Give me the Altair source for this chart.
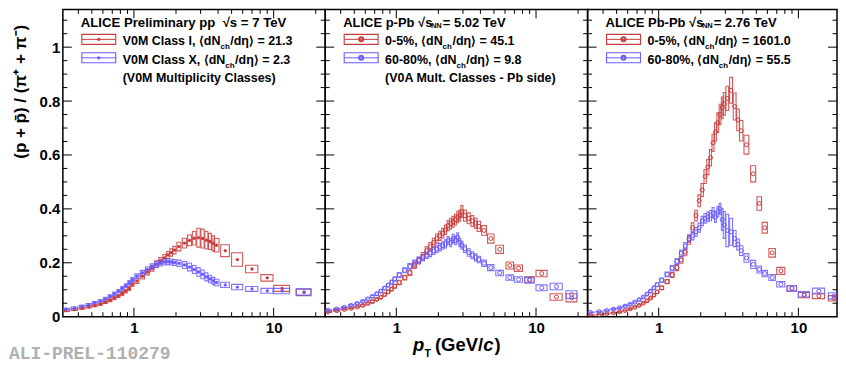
import altair as alt
import pandas as pd

# ---------------- data ----------------
PT_PP = [0.325, 0.375, 0.425, 0.475, 0.525, 0.575, 0.625, 0.675, 0.725, 0.775, 0.825, 0.875, 0.925, 0.975,
         1.05, 1.15, 1.25, 1.35, 1.45, 1.55, 1.65, 1.75, 1.85, 1.95,
         2.1, 2.3, 2.5, 2.7, 2.9, 3.1, 3.3, 3.5, 3.7, 3.9,
         4.5, 5.5, 7.0, 9.0, 11.5, 16.5]
PP_HIGH = [0.022, 0.026, 0.031, 0.036, 0.041, 0.047, 0.054, 0.061, 0.069, 0.077, 0.086, 0.095, 0.105, 0.120,
           0.132, 0.150, 0.165, 0.180, 0.195, 0.207, 0.218, 0.229, 0.238, 0.247,
           0.260, 0.273, 0.283, 0.291, 0.293, 0.290, 0.284, 0.279, 0.272, 0.265,
           0.245, 0.212, 0.177, 0.144, 0.105, 0.090]
PP_HIGH_SYS = [0.003, 0.003, 0.003, 0.004, 0.004, 0.004, 0.005, 0.005, 0.006, 0.006, 0.007, 0.007, 0.008, 0.008,
               0.009, 0.010, 0.010, 0.011, 0.012, 0.012, 0.013, 0.013, 0.014, 0.014,
               0.016, 0.018, 0.020, 0.025, 0.035, 0.035, 0.033, 0.030, 0.028, 0.025,
               0.022, 0.025, 0.014, 0.012, 0.011, 0.012]
PP_LOW = [0.028, 0.033, 0.039, 0.045, 0.052, 0.059, 0.067, 0.076, 0.085, 0.095, 0.105, 0.115, 0.126, 0.137,
          0.150, 0.163, 0.175, 0.186, 0.194, 0.199, 0.203, 0.204, 0.203, 0.201,
          0.198, 0.192, 0.184, 0.175, 0.166, 0.157, 0.148, 0.140, 0.133, 0.127,
          0.118, 0.110, 0.103, 0.096, 0.095, 0.092]
PP_LOW_SYS = [0.003, 0.003, 0.003, 0.004, 0.004, 0.004, 0.005, 0.005, 0.006, 0.006, 0.007, 0.007, 0.008, 0.008,
              0.009, 0.009, 0.010, 0.010, 0.011, 0.011, 0.011, 0.011, 0.011, 0.011,
              0.012, 0.013, 0.014, 0.015, 0.016, 0.016, 0.015, 0.014, 0.013, 0.012,
              0.010, 0.010, 0.009, 0.009, 0.010, 0.012]

PT_PPB = [0.325, 0.375, 0.425, 0.475, 0.525, 0.575, 0.625, 0.675, 0.725, 0.775, 0.825, 0.875, 0.925, 0.975,
          1.05, 1.15, 1.25, 1.35, 1.45, 1.55, 1.65, 1.75, 1.85, 1.95,
          2.05, 2.15, 2.25, 2.35, 2.45, 2.55, 2.65, 2.75, 2.85, 2.95,
          3.1, 3.3, 3.5, 3.7, 3.9,
          4.25, 4.75, 5.5, 6.5, 7.5, 9.0, 11.0, 14.0, 18.0]
PPB_HIGH = [0.018, 0.022, 0.027, 0.031, 0.036, 0.042, 0.049, 0.056, 0.064, 0.072, 0.082, 0.092, 0.102, 0.113,
            0.127, 0.145, 0.163, 0.190, 0.208, 0.225, 0.245, 0.260, 0.275, 0.290,
            0.300, 0.310, 0.322, 0.338, 0.345, 0.352, 0.360, 0.370, 0.375, 0.390,
            0.375, 0.365, 0.355, 0.347, 0.335,
            0.320, 0.290, 0.250, 0.190, 0.180, 0.138, 0.160, 0.073, 0.070]
PPB_HIGH_SYS = [0.002, 0.002, 0.002, 0.002, 0.003, 0.003, 0.003, 0.004, 0.004, 0.005, 0.005, 0.006, 0.006, 0.007,
                0.008, 0.009, 0.010, 0.011, 0.012, 0.013, 0.014, 0.015, 0.016, 0.017,
                0.017, 0.018, 0.018, 0.019, 0.020, 0.020, 0.020, 0.021, 0.021, 0.022,
                0.021, 0.020, 0.020, 0.019, 0.019,
                0.018, 0.017, 0.015, 0.013, 0.012, 0.010, 0.012, 0.012, 0.015]
PPB_LOW = [0.024, 0.029, 0.035, 0.042, 0.049, 0.057, 0.066, 0.075, 0.085, 0.095, 0.106, 0.117, 0.128, 0.140,
           0.155, 0.172, 0.187, 0.199, 0.210, 0.219, 0.228, 0.236, 0.244, 0.251,
           0.258, 0.264, 0.270, 0.282, 0.275, 0.290, 0.283, 0.295, 0.275, 0.265,
           0.252, 0.238, 0.228, 0.220, 0.212,
           0.198, 0.182, 0.162, 0.145, 0.138, 0.135, 0.107, 0.112, 0.082]
PPB_LOW_SYS = [0.002, 0.002, 0.002, 0.003, 0.003, 0.003, 0.004, 0.004, 0.005, 0.005, 0.006, 0.006, 0.007, 0.008,
               0.009, 0.009, 0.010, 0.011, 0.011, 0.012, 0.012, 0.013, 0.013, 0.014,
               0.014, 0.014, 0.015, 0.015, 0.015, 0.016, 0.016, 0.016, 0.015, 0.015,
               0.014, 0.014, 0.013, 0.013, 0.012,
               0.012, 0.011, 0.010, 0.010, 0.010, 0.011, 0.011, 0.012, 0.014]

PT_PBPB = [0.325, 0.375, 0.425, 0.475, 0.525, 0.575, 0.625, 0.675, 0.725, 0.775, 0.825, 0.875, 0.925, 0.975,
           1.05, 1.15, 1.25, 1.35, 1.45, 1.55, 1.65, 1.75, 1.85, 1.95,
           2.05, 2.15, 2.25, 2.35, 2.45, 2.55, 2.65, 2.75, 2.85, 2.95,
           3.1, 3.3, 3.5, 3.7, 3.9,
           4.25, 4.75, 5.25, 5.75, 6.5, 7.5, 9.0, 11.0, 14.0, 18.0]
PBPB_HIGH = [0.006, 0.008, 0.011, 0.014, 0.018, 0.023, 0.029, 0.035, 0.042, 0.050, 0.059, 0.069, 0.080, 0.092,
             0.107, 0.130, 0.155, 0.182, 0.210, 0.240, 0.285, 0.330, 0.375, 0.430,
             0.470, 0.520, 0.555, 0.590, 0.645, 0.685, 0.720, 0.750, 0.775, 0.790,
             0.810, 0.840, 0.780, 0.730, 0.690,
             0.638, 0.530, 0.420, 0.330, 0.237, 0.170, 0.105, 0.080, 0.077, 0.068]
PBPB_HIGH_SYS = [0.001, 0.001, 0.001, 0.001, 0.002, 0.002, 0.002, 0.003, 0.003, 0.003, 0.004, 0.004, 0.005, 0.006,
                 0.007, 0.008, 0.009, 0.011, 0.012, 0.014, 0.016, 0.018, 0.020, 0.022,
                 0.024, 0.026, 0.028, 0.030, 0.032, 0.034, 0.036, 0.038, 0.040, 0.042,
                 0.045, 0.048, 0.050, 0.040, 0.038,
                 0.035, 0.030, 0.025, 0.020, 0.016, 0.013, 0.010, 0.010, 0.010, 0.010]
PBPB_LOW = [0.016, 0.019, 0.023, 0.028, 0.033, 0.039, 0.046, 0.054, 0.063, 0.073, 0.084, 0.095, 0.107, 0.119,
            0.135, 0.157, 0.180, 0.205, 0.235, 0.262, 0.290, 0.300, 0.315, 0.330,
            0.355, 0.365, 0.370, 0.375, 0.385, 0.370, 0.390, 0.400, 0.360, 0.340,
            0.320, 0.315, 0.290, 0.268, 0.245,
            0.218, 0.194, 0.175, 0.160, 0.145, 0.120, 0.105, 0.083, 0.095, 0.077]
PBPB_LOW_SYS = [0.001, 0.001, 0.002, 0.002, 0.002, 0.003, 0.003, 0.003, 0.004, 0.004, 0.005, 0.005, 0.006, 0.007,
                0.008, 0.009, 0.010, 0.011, 0.012, 0.013, 0.014, 0.015, 0.016, 0.017,
                0.017, 0.018, 0.018, 0.019, 0.020, 0.020, 0.020, 0.021, 0.040, 0.050,
                0.060, 0.050, 0.030, 0.020, 0.018,
                0.016, 0.015, 0.013, 0.012, 0.011, 0.010, 0.010, 0.010, 0.011, 0.012]

Y_MAJOR = [0, 0.2, 0.4, 0.6, 0.8, 1.0]
Y_MINOR = [0.05, 0.1, 0.15, 0.25, 0.3, 0.35, 0.45, 0.5, 0.55, 0.65, 0.7, 0.75, 0.85, 0.9, 0.95, 1.05, 1.1]
X_MAJOR = [1, 10]
X_MINOR = [0.4, 0.5, 0.6, 0.7, 0.8, 0.9, 2, 3, 4, 5, 6, 7, 8, 9, 20]

# ---------------- style ----------------
RED = "#c83c3c"
BLUE = "#6a5cff"
FONT = "Liberation Sans"
H = 308
YMAX = 1.14
XMIN = 0.31
LEG = 12.5

# Helvetica-Bold advance widths (per 1000 em)
WID = {' ': 278, '\u00a0': 278, '(': 333, ')': 333, ',': 278, '-': 333, '.': 278, '/': 278, '=': 584,
       '%': 889, '⟨': 390, '⟩': 390, 'η': 611, '√': 549}
for ch in '0123456789':
    WID[ch] = 556
WID.update({'A': 722, 'C': 722, 'E': 667, 'G': 778, 'I': 278, 'L': 611, 'M': 833, 'N': 722, 'P': 667,
            'T': 611, 'V': 667, 'X': 667, 'a': 556, 'b': 611, 'c': 556, 'd': 611, 'e': 556, 'h': 611,
            'i': 278, 'l': 278, 'm': 889, 'n': 611, 'p': 611, 'r': 389, 's': 556, 't': 333, 'u': 611,
            'y': 556})


def tw(s, size):
    return sum(WID.get(c, 556) for c in s) * size / 1000.0


ONE = pd.DataFrame({"k": [0]})


def txt(s, x, y, size=12.0, italic=False, color="black", font=FONT, angle=None, align="left", weight="bold"):
    kw = dict(text=s, font=font, fontSize=size, fontWeight=weight, align=align,
              baseline="alphabetic", color=color)
    if italic:
        kw["fontStyle"] = "italic"
    if angle is not None:
        kw["angle"] = angle
    return alt.Chart(ONE).mark_text(**kw).encode(x=alt.value(x), y=alt.value(y))


def seq(parts, x0, y0):
    out = []
    x = x0
    for s, size, dy, adv in parts:
        out.append(txt(s, x, y0 + dy, size))
        x += tw(s, size) + adv
    return out


def frame_rows(pt, val, syst, series):
    rows = []
    n = len(pt)
    for i, (c, v, s) in enumerate(zip(pt, val, syst)):
        lo_e = (pt[i - 1] + c) / 2 if i > 0 else c - (pt[1] - c) / 2
        hi_e = (c + pt[i + 1]) / 2 if i < n - 1 else c + (c - pt[i - 1]) / 2
        hw = 0.4 * (hi_e - lo_e)
        rows.append(dict(series=series, pt=c, val=v, xlo=c - hw, xhi=c + hw, ylo=v - s, yhi=v + s))
    return rows


def glyph(color, y0, y1, filled, msize):
    mid = (y0 + y1) / 2
    return [
        alt.Chart(ONE).mark_rect(filled=False, color=color, strokeWidth=1.1).encode(
            x=alt.value(19), x2=alt.value(53), y=alt.value(y0), y2=alt.value(y1)),
        alt.Chart(ONE).mark_rule(color=color, strokeWidth=1).encode(
            x=alt.value(19), x2=alt.value(53), y=alt.value(mid)),
        alt.Chart(ONE).mark_point(filled=filled, color=color, size=msize, opacity=1).encode(
            x=alt.value(36), y=alt.value(mid)),
    ]


def panel(df, width, xmax, filled, title_parts, rows, extra, show_y, more=None):
    xs = alt.Scale(type="log", domain=[XMIN, xmax], nice=False)
    ys = alt.Scale(domain=[0, YMAX], nice=False, zero=False)
    col = alt.Color("series:N", scale=alt.Scale(domain=["a", "b"], range=[RED, BLUE]), legend=None)
    xaxis = alt.Axis(values=X_MAJOR, format="~g", ticks=False, domain=False, grid=False,
                     labelFont=FONT, labelFontWeight="bold", labelFontSize=15, labelColor="black",
                     labelPadding=4, labelFlush=False, title=None)
    if show_y:
        yaxis = alt.Axis(values=Y_MAJOR, format="~g", ticks=False, domain=False, grid=False,
                         labelFont=FONT, labelFontWeight="bold", labelFontSize=15, labelColor="black",
                         labelPadding=3, labelFlush=False, title=None)
    else:
        yaxis = None

    def X(f):
        return alt.X(f, scale=xs, axis=xaxis, title=None)

    def Y(f):
        return alt.Y(f, scale=ys, axis=yaxis, title=None)

    msize = 11 if filled else 16
    layers = [
        alt.Chart(df).mark_rect(filled=False, strokeWidth=1.1, strokeOpacity=0.85, clip=True).encode(
            x=X("xlo:Q"), x2="xhi:Q", y=Y("ylo:Q"), y2="yhi:Q", color=col),
        alt.Chart(df).mark_point(filled=filled, size=msize, strokeWidth=1, opacity=1, clip=True).encode(
            x=X("pt:Q"), y=Y("val:Q"), color=col),
    ]
    # inward ticks on all four sides
    ymaj = pd.DataFrame({"v": Y_MAJOR})
    ymin = pd.DataFrame({"v": Y_MINOR})
    xmaj = pd.DataFrame({"v": X_MAJOR})
    xmin = pd.DataFrame({"v": X_MINOR})
    for d, ln in ((ymaj, 9), (ymin, 4.5)):
        layers.append(alt.Chart(d).mark_rule(color="black", strokeWidth=1, clip=True).encode(
            x=alt.value(0), x2=alt.value(ln), y=Y("v:Q")))
        layers.append(alt.Chart(d).mark_rule(color="black", strokeWidth=1, clip=True).encode(
            x=alt.value(width), x2=alt.value(width - ln), y=Y("v:Q")))
    for d, ln in ((xmaj, 9), (xmin, 4.5)):
        layers.append(alt.Chart(d).mark_rule(color="black", strokeWidth=1, clip=True).encode(
            y=alt.value(H), y2=alt.value(H - ln), x=X("v:Q")))
        layers.append(alt.Chart(d).mark_rule(color="black", strokeWidth=1, clip=True).encode(
            y=alt.value(0), y2=alt.value(ln), x=X("v:Q")))
    # legend block
    layers += seq(title_parts, 18, 17.5)
    layers += glyph(RED, 25, 35, filled, msize)
    layers += glyph(BLUE, 43.5, 53.5, filled, msize)
    layers += seq(rows[0], 60, 35.3)
    layers += seq(rows[1], 60, 54.3)
    if extra:
        layers.append(txt(extra, 60, 72.5, LEG))
    if more:
        layers += more
    return alt.layer(*layers).properties(width=width, height=H)


def row(prefix, value):
    return [(prefix + "⟨dN", LEG, 0, 0), ("ch", 8.0, 4.5, 0.5), ("/dη⟩ = " + value, LEG, 0, 0)]


df_pp = pd.DataFrame(frame_rows(PT_PP, PP_HIGH, PP_HIGH_SYS, "a") + frame_rows(PT_PP, PP_LOW, PP_LOW_SYS, "b"))
df_ppb = pd.DataFrame(frame_rows(PT_PPB, PPB_HIGH, PPB_HIGH_SYS, "a") + frame_rows(PT_PPB, PPB_LOW, PPB_LOW_SYS, "b"))
df_pbpb = pd.DataFrame(frame_rows(PT_PBPB, PBPB_HIGH, PBPB_HIGH_SYS, "a") + frame_rows(PT_PBPB, PBPB_LOW, PBPB_LOW_SYS, "b"))

extra1 = [
    txt("(p + p̄) / (π⁺ + π⁻)", -37, 82.5, size=17, angle=270, align="center"),
    txt("ALI-PREL-110279", -54, 350, size=18, font="Liberation Mono", color="#b0b0b0"),
]
extra2 = [
    txt("p", 88, 342, size=18.5, italic=True),
    txt("T", 99.5, 348, size=10.5),
    txt("(GeV/", 110, 342, size=18.5),
    txt("c", 110 + tw("(GeV/", 18.5), 342, size=18.5, italic=True),
    txt(")", 110 + tw("(GeV/", 18.5) + tw("c", 18.5) + 1, 342, size=18.5),
]

p1 = panel(df_pp, 263, 23.4, True,
           [("ALICE Preliminary pp\u00a0 √s = 7 TeV", 13.2, 0, 0)],
           [row("V0M Class I, ", "21.3"), row("V0M Class X, ", "2.3")],
           "(V0M Multiplicity Classes)", True, extra1)
p2 = panel(df_ppb, 263, 23.4, False,
           [("ALICE p-Pb √s", 13.0, 0, -1.5), ("NN", 7.5, 1.5, 1), (" = 5.02 TeV", 13.0, 0, 0)],
           [row("0-5%, ", "45.1"), row("60-80%, ", "9.8")],
           "(V0A Mult. Classes - Pb side)", False, extra2)
p3 = panel(df_pbpb, 250, 18.9, False,
           [("ALICE Pb-Pb √s", 13.0, 0, -1.5), ("NN", 7.5, 1.5, 1), (" = 2.76 TeV", 13.0, 0, 0)],
           [row("0-5%, ", "1601.0"), row("60-80%, ", "55.5")],
           None, False)

chart = alt.hconcat(p1, p2, p3, spacing=0, bounds="flush").properties(padding=0).configure_view(
    stroke="black", strokeWidth=1.5)

chart.save("out.html", embed_options={"renderer": "svg", "actions": False})
